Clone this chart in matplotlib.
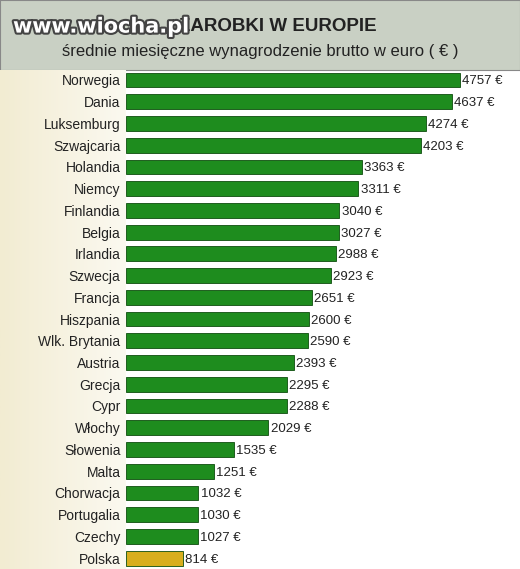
import numpy as np
import matplotlib.pyplot as plt
import matplotlib.patheffects as pe
from matplotlib.colors import LinearSegmentedColormap

kraje = ['Norwegia', 'Dania', 'Luksemburg', 'Szwajcaria', 'Holandia', 'Niemcy', 'Finlandia',
         'Belgia', 'Irlandia', 'Szwecja', 'Francja', 'Hiszpania', 'Wlk. Brytania', 'Austria',
         'Grecja', 'Cypr', 'Włochy', 'Słowenia', 'Malta', 'Chorwacja', 'Portugalia', 'Czechy', 'Polska']
zarobki = [4757, 4637, 4274, 4203, 3363, 3311, 3040, 3027, 2988, 2923, 2651, 2600, 2590, 2393,
           2295, 2288, 2029, 1535, 1251, 1032, 1030, 1027, 814]

W, H = 520, 569
fig = plt.figure(figsize=(W/100, H/100), dpi=100)
fig.patch.set_facecolor('white')

# naglowek
hdr = fig.add_axes([0, 1-70/H, 1, 70/H])
hdr.set_facecolor('#c9d0c4')
hdr.set_xticks([]); hdr.set_yticks([])
for s in hdr.spines.values():
    s.set_color('#888888')
hdr.text(0.345, 0.62, 'ZAROBKI W EUROPIE', ha='left', va='center', fontsize=13.5,
         fontweight='bold', family='Liberation Sans', color='#222222')
hdr.text(0.5, 0.27, 'średnie miesięczne wynagrodzenie brutto w euro ( € )', ha='center',
         va='center', fontsize=12, family='Liberation Sans', color='#222222')
hdr.text(0.025, 0.62, 'www.wiocha.pl', ha='left', va='center', fontsize=15, fontweight='bold',
         color='white', family='DejaVu Sans',
         path_effects=[pe.withStroke(linewidth=3, foreground='#444444')])

# tlo etykiet
lab = fig.add_axes([0, 0, 126/W, 1-70/H])
grad = np.linspace(0, 1, 100).reshape(1, -1)
lab.imshow(grad, aspect='auto', cmap=LinearSegmentedColormap.from_list('c', ['#f2ecd2', '#fbf9f0']),
           extent=[0, 1, 0, 1])
lab.axis('off')

ax = fig.add_axes([126/W, 0, 1-126/W, 1-70/H])
ax.patch.set_alpha(0)
y = np.arange(len(kraje))
kolory = ['#1e8c1e'] * (len(kraje)-1) + ['#d8ae1e']
ax.barh(y, zarobki, height=0.68, color=kolory, edgecolor='#0d4d0d', linewidth=0.6)
ax.set_xlim(0, 4757*394/334)
ax.set_ylim(22.5, -0.46)
for i, v in enumerate(zarobki):
    ax.text(v + 30, i, f'{v} €', va='center_baseline', ha='left', fontsize=9.5,
            family='Liberation Sans', color='#222222')
ax.set_yticks(y)
ax.set_yticklabels(kraje, fontsize=10, family='Liberation Sans', color='#222222')
ax.tick_params(axis='y', length=0, pad=4)
ax.set_xticks([])
for s in ax.spines.values():
    s.set_visible(False)

plt.savefig('out.png', dpi=100)
